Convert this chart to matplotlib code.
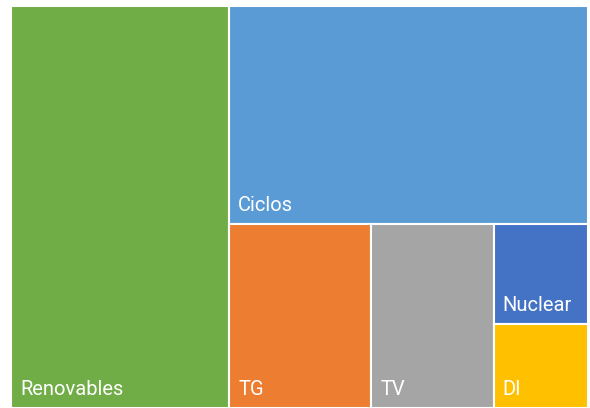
import matplotlib
matplotlib.use('Agg')
import matplotlib.pyplot as plt
from matplotlib.patches import Rectangle

# generation mix (share of total, %)
labels = ['Renovables', 'Ciclos', 'TG', 'TV', 'Nuclear', 'DI']
values = [37.8, 33.7, 11.3, 9.7, 4.1, 3.4]
colors = ['#70AD47', '#5B9BD5', '#ED7D31', '#A5A5A5', '#4472C4', '#FFC000']


def worst(row, side):
    s = sum(row)
    return max(max(side * side * r / (s * s), s * s / (side * side * r)) for r in row)


def squarify(areas, x, y, w, h):
    # classic squarified treemap, y grows downward
    rects = []
    areas = list(areas)
    while areas:
        side = min(w, h)
        row = [areas.pop(0)]
        while areas and worst(row + [areas[0]], side) <= worst(row, side):
            row.append(areas.pop(0))
        s = sum(row)
        if w >= h:  # column on the left
            cw = s / h
            yy = y
            for a in row:
                rects.append((x, yy, cw, a / cw))
                yy += a / cw
            x += cw
            w -= cw
        else:  # row along the top
            rh = s / w
            xx = x
            for a in row:
                rects.append((xx, y, a / rh, rh))
                xx += a / rh
            y += rh
            h -= rh
    return rects


W, H = 577.0, 402.0
tot = sum(values)
areas = [v / tot * W * H for v in values]
rects = squarify(areas, 0, 0, W, H)

fig = plt.figure(figsize=(5.9, 4.08), dpi=100)
ax = fig.add_axes([11 / 590, 0, W / 590, H / 408])
ax.set_xlim(0, W)
ax.set_ylim(H, 0)
ax.axis('off')

for (x, y, w, h), lab, c in zip(rects, labels, colors):
    ax.add_patch(Rectangle((x, y), w, h, facecolor=c, edgecolor='white', linewidth=1.5))
    ax.text(x + 9, y + h - 13, lab, color='white', fontsize=14.5, family='Roboto',
            ha='left', va='baseline')

fig.savefig('out.png', dpi=100)
